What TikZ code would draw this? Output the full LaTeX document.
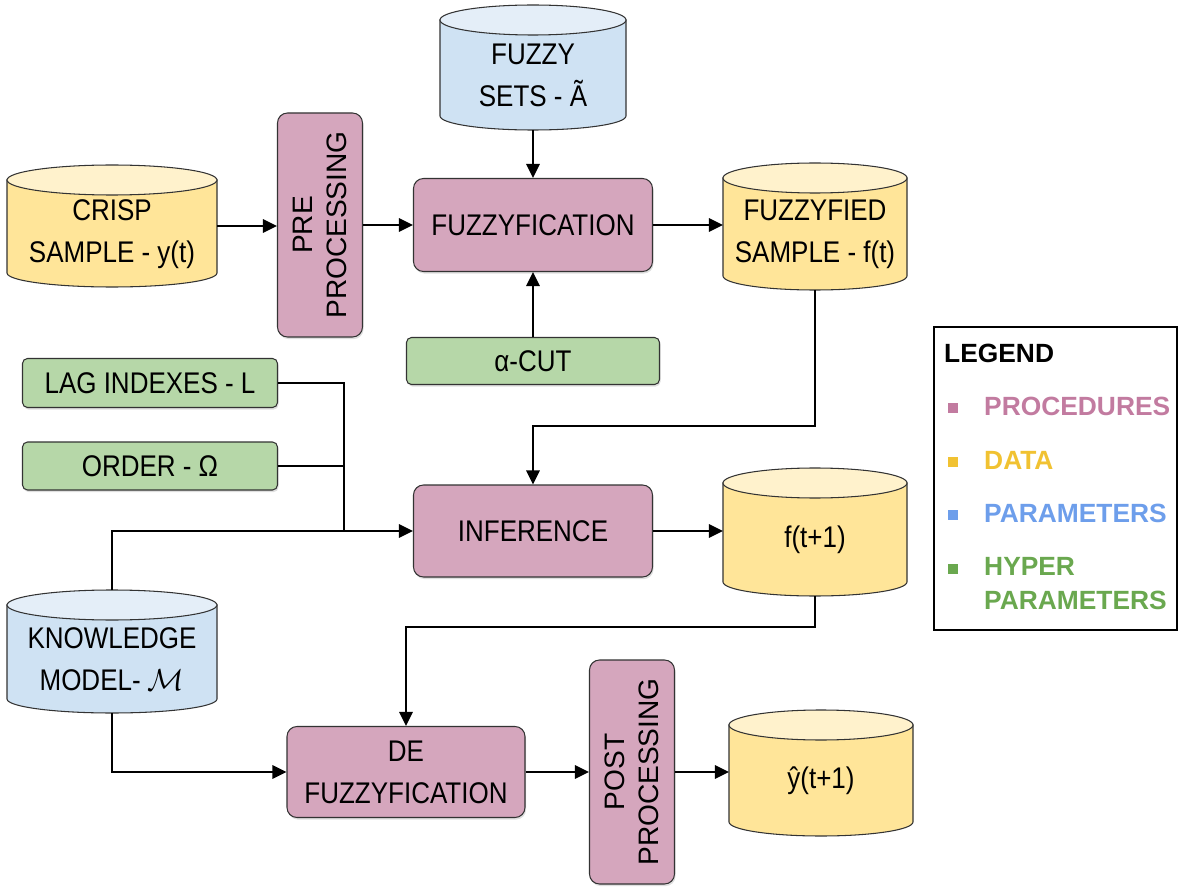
\documentclass[tikz,border=0pt]{standalone}
\usepackage{fontspec}
\setmainfont{Liberation Sans}
\newfontfamily\narrowfont{Liberation Sans}[FakeStretch=0.87]
\usetikzlibrary{arrows.meta,shadows}

\definecolor{procfill}{HTML}{D5A6BD}
\definecolor{datafill}{HTML}{FFE599}
\definecolor{datafilltop}{HTML}{FFF2CC}
\definecolor{parfill}{HTML}{CFE2F3}
\definecolor{parfilltop}{HTML}{E4EEF8}
\definecolor{hypfill}{HTML}{B6D7A8}
\definecolor{proctext}{HTML}{C27BA0}
\definecolor{datatext}{HTML}{F1C232}
\definecolor{partext}{HTML}{6D9EEB}
\definecolor{hyptext}{HTML}{6AA84F}

\tikzset{
  shade/.style={drop shadow={shadow xshift=0.6pt,shadow yshift=-1.2pt,opacity=0.25}},
  proc/.style={draw=black!80, line width=0.6pt, fill=procfill, rounded corners=0.2cm,
    shade, font=\narrowfont\fontsize{17}{24}\selectfont, align=center},
  vproc/.style={proc, rotate=90, font=\fontsize{16}{19}\selectfont,
    minimum width=4.48cm, minimum height=1.7cm},
  hyper/.style={draw=black!80, line width=0.6pt, fill=hypfill, rounded corners=0.1cm,
    shade, font=\narrowfont\fontsize{17}{24}\selectfont, minimum width=5.1cm},
  dbline/.style={draw=black!80, line width=0.6pt},
  dbbox/.style={inner sep=0pt, outer sep=0pt},
  dbtext/.style={font=\narrowfont\fontsize{17}{24}\selectfont, align=center},
  arr/.style={line width=1.4pt, -{Triangle[length=8pt,width=7.5pt]}},
  link/.style={line width=1.4pt},
  legtext/.style={anchor=west, font=\bfseries\fontsize{15}{19}\selectfont, align=left},
  legmark/.style={minimum size=0.2cm, inner sep=0pt}
}

% name, x, top, bottom, half width, colour, text
\newcommand{\dbnode}[7]{%
  \draw[dbline, fill=#6] (#2-#5,#3-0.3) -- (#2-#5,#4+0.28)
    arc[start angle=180, end angle=360, x radius=#5, y radius=0.28]
    -- (#2+#5,#3-0.3) -- cycle;
  \draw[dbline, fill=#6top] (#2,#3-0.3) ellipse[x radius=#5, y radius=0.3];
  \node[dbbox, minimum width={2*#5cm}, minimum height={((#3)-(#4))*1cm}] (#1) at (#2,{((#3)+(#4))/2}) {};
  \node[dbtext] (#1-t) at (#2,{((#3)+(#4))/2-0.16}) {#7};
}

\begin{document}
\begin{tikzpicture}
  \useasboundingbox (0,0) rectangle (23.58,-17.76);

  % data and parameters
  \dbnode{fset}{10.66}{-0.1}{-2.6}{1.86}{parfill}{FUZZY\\SETS - Ã}
  \dbnode{crisp}{2.24}{-3.3}{-5.74}{2.1}{datafill}{CRISP\\SAMPLE - y(t)}
  \dbnode{fzd}{16.3}{-3.26}{-5.8}{1.84}{datafill}{FUZZYFIED\\SAMPLE - f(t)}
  \dbnode{fnext}{16.3}{-9.36}{-11.92}{1.84}{datafill}{f(t+1)}
  \dbnode{know}{2.24}{-11.8}{-14.26}{2.1}{parfill}{KNOWLEDGE\\MODEL- $\mathcal{M}$}
  \dbnode{yhat}{16.42}{-14.2}{-16.72}{1.84}{datafill}{ŷ(t+1)}

  % procedures
  \node[vproc] (pre) at (6.4,-4.5) {PRE\\PROCESSING};
  \node[proc, minimum width=4.78cm, minimum height=1.86cm] (fuzz) at (10.66,-4.5) {FUZZYFICATION};
  \node[proc, minimum width=4.78cm, minimum height=1.84cm] (infer) at (10.66,-10.62) {INFERENCE};
  \node[proc, minimum width=4.76cm, minimum height=1.82cm] (defuzz) at (8.12,-15.44) {DE\\FUZZYFICATION};
  \node[vproc] (post) at (12.64,-15.44) {POST\\PROCESSING};

  % hyper parameters
  \node[hyper, minimum width=5.06cm, minimum height=0.94cm] (acut) at (10.66,-7.22) {α-CUT};
  \node[hyper, minimum height=0.98cm] (lag) at (3.0,-7.66) {LAG INDEXES - L};
  \node[hyper, minimum height=0.96cm] (order) at (3.0,-9.32) {ORDER - Ω};

  % connectors
  \coordinate (merge) at (6.88,-10.62);
  \coordinate (bend1) at (16.3,-8.52);
  \coordinate (bend2) at (16.3,-12.54);
  \draw[arr] (crisp.east) -- (crisp.east -| pre.north);
  \draw[arr] (pre.south) -- (pre.south -| fuzz.west);
  \draw[arr] (fset.south) -- (fuzz.north);
  \draw[arr] (acut.north) -- (fuzz.south);
  \draw[arr] (fuzz.east) -- (fuzz.east -| fzd.west);
  \draw[arr] (fzd.south) -- (bend1) -| (infer.north);
  \draw[link] (lag.east) -| (merge);
  \draw[link] (order.east) -- (order.east -| merge);
  \draw[arr] (know.north) |- (infer.west);
  \draw[arr] (infer.east) -- (infer.east -| fnext.west);
  \draw[arr] (fnext.south) -- (bend2) -| (defuzz.north);
  \draw[arr] (know.south) |- (defuzz.west);
  \draw[arr] (defuzz.east) -- (defuzz.east -| post.north);
  \draw[arr] (post.south) -- (post.south -| yhat.west);

  % legend
  \draw[line width=1.2pt] (18.68,-6.54) rectangle (23.54,-12.6);
  \node[legtext] (leg) at (18.76,-7.06) {LEGEND};
  \node[legmark, fill=proctext] (m1) at (19.06,-8.16) {};
  \node[legtext, text=proctext] (l1) at (19.56,-8.12) {PROCEDURES};
  \node[legmark, fill=datatext] (m2) at (19.06,-9.24) {};
  \node[legtext, text=datatext] (l2) at (19.56,-9.2) {DATA};
  \node[legmark, fill=partext] (m3) at (19.06,-10.3) {};
  \node[legtext, text=partext] (l3) at (19.56,-10.26) {PARAMETERS};
  \node[legmark, fill=hyptext] (m4) at (19.06,-11.38) {};
  \node[legtext, text=hyptext] (l4) at (19.56,-11.67) {HYPER\\PARAMETERS};
\end{tikzpicture}
\end{document}
